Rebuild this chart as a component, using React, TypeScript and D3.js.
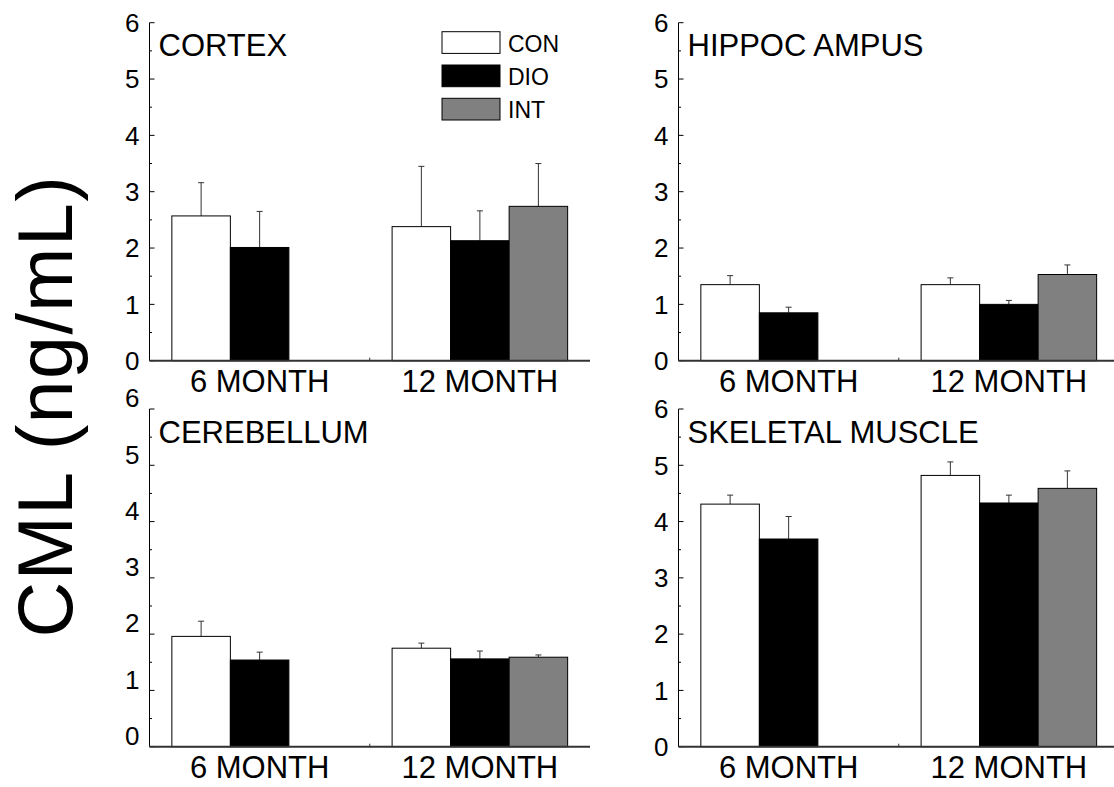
import React from "react";
import * as d3 from "d3";

const groups = ["6 MONTH", "12 MONTH"];
const seriesNames = ["CON", "DIO", "INT"];
const seriesFill = ["#ffffff", "#000000", "#808080"];
const yTicks = [0, 1, 2, 3, 4, 5, 6];

// values[group][series], null = missing
const cortexMean = [[2.57, 2.01, null], [2.38, 2.13, 2.74]];
const cortexErr = [[0.59, 0.64, null], [1.07, 0.53, 0.76]];
const hippoMean = [[1.35, 0.85, null], [1.35, 1.0, 1.53]];
const hippoErr = [[0.16, 0.1, null], [0.12, 0.07, 0.17]];
const cerebMean = [[1.96, 1.54, null], [1.75, 1.56, 1.59]];
const cerebErr = [[0.27, 0.14, null], [0.09, 0.14, 0.04]];
const muscleMean = [[4.31, 3.69, null], [4.82, 4.33, 4.59]];
const muscleErr = [[0.16, 0.4, null], [0.24, 0.14, 0.31]];

const panels = [
  { title: "CORTEX", mean: cortexMean, err: cortexErr, x0: 149.5, x1: 590, yTop: 22.7, yBot: 360.7, labelShift: 0, legend: true },
  { title: "HIPPOC AMPUS", mean: hippoMean, err: hippoErr, x0: 678.5, x1: 1119, yTop: 22.7, yBot: 360.7, labelShift: 0, legend: false },
  { title: "CEREBELLUM", mean: cerebMean, err: cerebErr, x0: 149.5, x1: 590, yTop: 409, yBot: 746.7, labelShift: -11, legend: false },
  { title: "SKELETAL MUSCLE", mean: muscleMean, err: muscleErr, x0: 678.5, x1: 1119, yTop: 409, yBot: 746.7, labelShift: 0, legend: false },
];

const FONT = "Arial, 'Liberation Sans', Helvetica, sans-serif";

function Panel({ p }: { p: any }) {
  const y = d3.scaleLinear().domain([0, 6]).range([p.yBot, p.yTop]);
  const xg = d3.scaleBand<string>().domain(groups).range([p.x0, p.x1]).paddingInner(0.203).paddingOuter(0.1015);
  const xs = d3.scaleBand<string>().domain(seriesNames).range([0, xg.bandwidth()]).padding(0);
  const minor = d3.range(0.5, 6, 1);
  const step = xg.step();
  return (
    <g>
      {groups.map((g, gi) =>
        seriesNames.map((s, si) => {
          const v = p.mean[gi][si];
          if (v == null) return null;
          const e = p.err[gi][si];
          const bx = (xg(g) as number) + (xs(s) as number);
          const bw = xs.bandwidth();
          const cx = bx + bw / 2;
          return (
            <g key={g + s}>
              <line x1={cx} x2={cx} y1={y(v)} y2={y(v + e)} stroke="#333" strokeWidth={1} />
              <line x1={cx - 3} x2={cx + 3} y1={y(v + e)} y2={y(v + e)} stroke="#333" strokeWidth={1} />
              <rect x={bx} y={y(v)} width={bw} height={y(0) - y(v)} fill={seriesFill[si]} stroke="#000" strokeWidth={1} />
            </g>
          );
        })
      )}
      {/* y axis */}
      <line x1={p.x0} x2={p.x0} y1={y(6)} y2={y(0)} stroke="#000" strokeWidth={1} />
      {yTicks.map((t) => (
        <g key={t}>
          <line x1={p.x0} x2={p.x0 + 5} y1={y(t)} y2={y(t)} stroke="#000" strokeWidth={1} />
          <text x={p.x0 - 10} y={y(t) + p.labelShift} dy="0.36em" textAnchor="end" fontSize={26} fontFamily={FONT} fill="#000">
            {t}
          </text>
        </g>
      ))}
      {minor.map((t) => (
        <line key={t} x1={p.x0} x2={p.x0 + 2.5} y1={y(t)} y2={y(t)} stroke="#000" strokeWidth={1} />
      ))}
      {/* x axis */}
      <line x1={p.x0} x2={p.x1} y1={y(0)} y2={y(0)} stroke="#333" strokeWidth={2} />
      <line x1={p.x0 + step} x2={p.x0 + step} y1={y(0)} y2={y(0) - 3} stroke="#333" strokeWidth={1} />
      {groups.map((g) => (
        <text key={g} x={(xg(g) as number) + xg.bandwidth() / 2} y={y(0) + 31} textAnchor="middle" fontSize={31} fontFamily={FONT} fill="#000">
          {g}
        </text>
      ))}
      <text x={p.x0 + 9} y={p.yTop + 33.5} fontSize={31} fontFamily={FONT} fill="#000">
        {p.title}
      </text>
      {p.legend &&
        seriesNames.map((s, si) => (
          <g key={s}>
            <rect x={442} y={31.7 + si * 33.3} width={58} height={21.7} fill={seriesFill[si]} stroke="#000" strokeWidth={1} />
            <text x={508} y={51.5 + si * 33.3} fontSize={23} fontFamily={FONT} fill="#000">
              {s}
            </text>
          </g>
        ))}
    </g>
  );
}

export default function App() {
  return (
    <svg width={1114} height={787} style={{ position: "absolute", left: 0, top: 0, background: "#fff" }}>
      <rect x={0} y={0} width={1114} height={787} fill="#fff" />
      {panels.map((p) => (
        <Panel key={p.title} p={p} />
      ))}
      <text transform="translate(72,406) rotate(-90)" textAnchor="middle" fontSize={77} letterSpacing={1.5} fontFamily={FONT} fill="#000">
        CML (ng/mL)
      </text>
    </svg>
  );
}
